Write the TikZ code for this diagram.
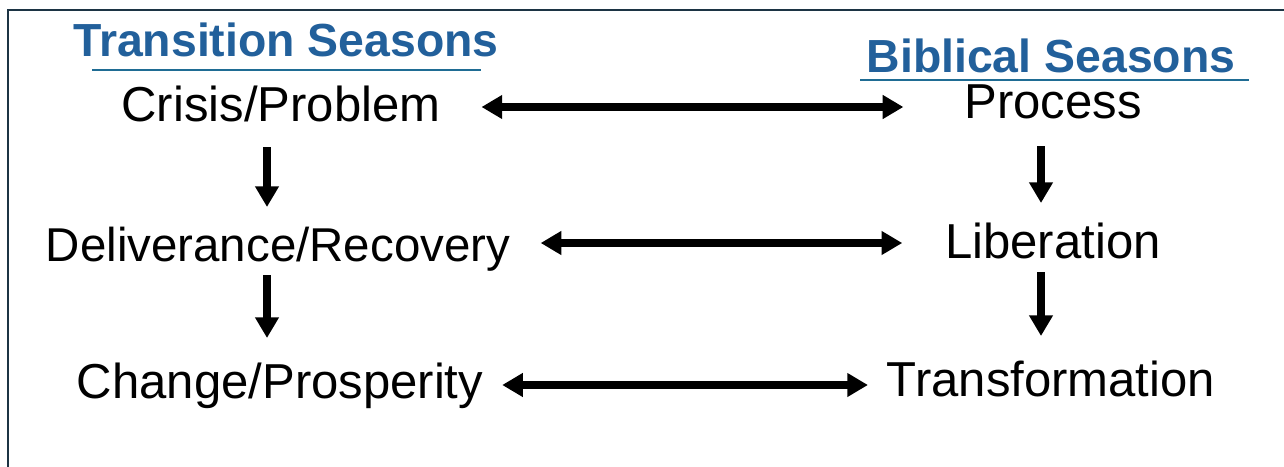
\documentclass[tikz,border=0pt]{standalone}
\usepackage{fontspec}
\setmainfont{Liberation Sans}
\usetikzlibrary{arrows.meta,calc}
\definecolor{titleblue}{RGB}{34,96,155}
\definecolor{lineblue}{RGB}{31,108,148}
\definecolor{framecol}{RGB}{28,52,68}
\begin{document}
\begin{tikzpicture}[x=0.75pt,y=-0.75pt,
  lbl/.style={inner sep=0pt,outer sep=0pt,anchor=base,text height=25.5pt,text depth=0pt,
    font=\fontsize{36.8}{42}\selectfont,align=center},
  ttl/.style={inner sep=0pt,outer sep=0pt,anchor=base,text=titleblue,
    font=\fontsize{34.8}{40}\selectfont\bfseries},
  arr/.style={line width=5.8pt,-{Triangle[length=15.5pt,width=17pt]}},
  darr/.style={line width=5.8pt,{Triangle[length=15.5pt,width=17pt]}-{Triangle[length=15.5pt,width=17pt]}},
  uline/.style={draw=lineblue,line width=2pt},
  framel/.style={draw=framecol,line width=2pt}]
\useasboundingbox (0,0) rectangle (1284,467);
\fill[white] (0,0) rectangle (1284,467);
\draw[framel] (8,480) -- (8,10) -- (1300,10);

% titles
\node[ttl] (ts) at (286,57) {Transition Seasons};
\node[ttl] (bs) at (1051,73) {Biblical Seasons};
\draw[uline] ($(ts.base)+(-194,13)$) -- ($(ts.base)+(195,13)$);
\draw[uline] ($(bs.base)+(-191,7)$) -- ($(bs.base)+(198,7)$);

% labels
\node[lbl,minimum width=238.5pt] (cp) at (281,121) {Crisis/Problem};
\node[lbl,minimum width=126.75pt] (pr) at (1053,118) {Process};
\node[lbl,minimum width=347.25pt,font=\fontsize{35.6}{42}\selectfont] (dr) at (278,261) {Deliverance/Recovery};
\node[lbl,minimum width=157.5pt] (li) at (1053,258) {Liberation};
\node[lbl,minimum width=297pt] (ch) at (280,398) {Change/Prosperity};
\node[lbl,minimum width=240.75pt] (tr) at (1051,396) {Transformation};

% horizontal double arrows
\draw[darr] ($(cp.east)+(41,3)$) -- ($(pr.west)+(-61,6)$);
\draw[darr] ($(dr.east)+(30.5,-1)$) -- ($(li.west)+(-43,2)$);
\draw[darr] ($(ch.east)+(19,4)$) -- ($(tr.west)+(-19,6)$);

% vertical arrows
\draw[arr] ($(cp.south)+(-14,26)$) -- ($(dr.north)+(-11,-20)$);
\draw[arr] ($(pr.south)+(-12,28)$) -- ($(li.north)+(-12,-21)$);
\draw[arr] ($(dr.south)+(-11,14)$) -- ($(ch.north)+(-13,-26)$);
\draw[arr] ($(li.south)+(-12,14)$) -- ($(tr.north)+(-10,-26)$);
\end{tikzpicture}
\end{document}
